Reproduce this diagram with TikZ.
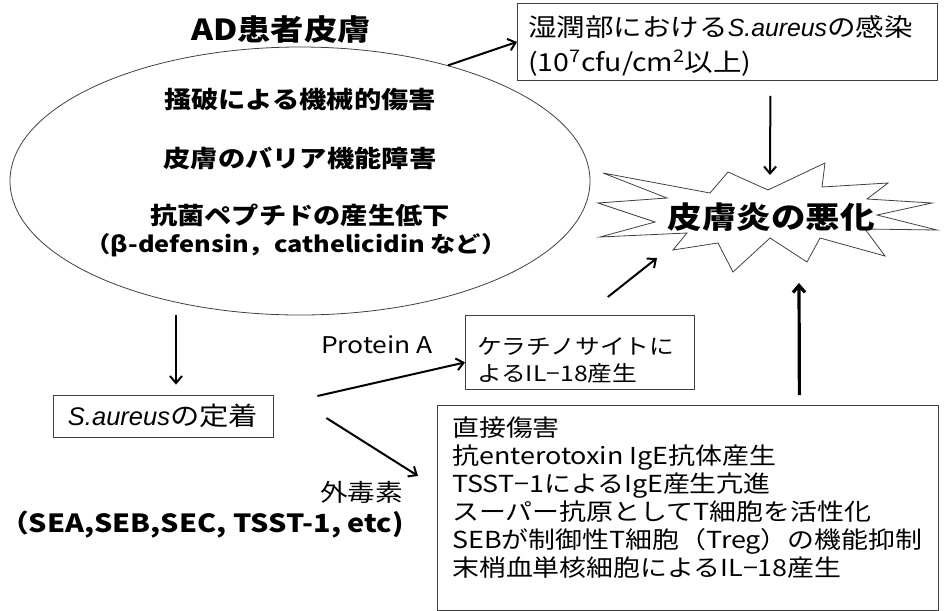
\documentclass[tikz,border=0pt]{standalone}
\usepackage{fontspec}
\setmainfont[FakeStretch=1.15]{Noto Sans CJK JP}
\newfontfamily\itfont{Liberation Sans}
\usetikzlibrary{arrows.meta,shapes.geometric}
\newcommand{\sau}{{\itfont\itshape S.aureus}}
\tikzset{
  boxn/.style={draw=black!75, line width=0.8pt, inner sep=0pt},
  arr/.style={line width=2pt, -{Straight Barb[length=7pt,width=12pt]}},
  thickarr/.style={line width=3.2pt, -{Straight Barb[length=7pt,width=12pt]}},
  lbl/.style={inner sep=0pt},
  txtl/.style={inner sep=0pt, anchor=north west, align=left},
}
\begin{document}
\begin{tikzpicture}[x=1pt,y=-1pt]
\useasboundingbox (0,0) rectangle (946,611);
% title and ellipse
\node[lbl, font=\fontsize{29}{29}\selectfont\bfseries] (title) at (281,30) {AD患者皮膚};
\node[draw=black!75, line width=0.8pt, ellipse, minimum width=580pt, minimum height=268pt, inner sep=0pt] (ell) at (300,181) {};
\node[lbl, font=\fontsize{23.7}{24}\selectfont\bfseries] (e1) at (300,100) {掻破による機械的傷害};
\node[lbl, font=\fontsize{23.7}{24}\selectfont\bfseries] (e2) at (300,158) {皮膚のバリア機能障害};
\node[lbl, font=\fontsize{23.7}{24}\selectfont\bfseries] (e3) at (300,215) {抗菌ペプチドの産生低下};
\node[lbl, font=\fontsize{22}{22}\selectfont\bfseries] (e4) at (296,245) {（β-defensin，cathelicidin など）};
% top right box
\node[boxn, anchor=north west, minimum width=420pt, minimum height=77pt] (inf) at (517,3) {};
\node[txtl, font=\fontsize{24.8}{35}\selectfont] (inftxt) at (528,15)
  {湿潤部における\sau の感染\\(10\textsuperscript{7}cfu/cm\textsuperscript{2}以上)};
% star
\draw[black!75, line width=0.8pt] (603,173) -- (710,193) -- (728,172) -- (768,190) -- (825,163)
  -- (822,187) -- (888,183) -- (867,199) -- (932,203) -- (877,215) -- (937,230) -- (865,229)
  -- (885,256) -- (820,238) -- (807,262) -- (770,238) -- (733,272) -- (718,243) -- (673,250)
  -- (687,233) -- (600,237) -- (655,222) -- (598,203) -- (667,198) -- cycle;
\node[lbl, font=\fontsize{30}{30}\selectfont\bfseries] (star) at (771,217) {皮膚炎の悪化};
\coordinate (startop) at (770,175);
\coordinate (starsw) at (657,258);
\coordinate (starbot) at (799,283);
% colonisation box
\node[boxn, minimum width=220pt, minimum height=42pt, align=center,
      font=\fontsize{25.5}{25.5}\selectfont] (col) at (163,416) {\sau の定着};
% keratinocyte box
\node[boxn, anchor=north west, minimum width=229pt, minimum height=74pt] (kera) at (465,315) {};
\node[txtl, font=\fontsize{21.5}{27}\selectfont] (keratxt) at (477,337) {ケラチノサイトに\\よるIL−18産生};
% direct damage box
\node[boxn, anchor=north west, minimum width=501pt, minimum height=205pt] (dir) at (437,405) {};
\node[txtl, font=\fontsize{23.4}{28}\selectfont] (dirtxt) at (452,417)
  {直接傷害\\抗enterotoxin IgE抗体産生\\TSST−1によるIgE産生亢進\\スーパー抗原としてT細胞を活性化\\SEBが制御性T細胞（Treg）の機能抑制\\末梢血単核細胞によるIL−18産生};
% labels
\node[lbl, font=\fontsize{23}{23}\selectfont] (prot) at (377,345) {Protein A};
\node[lbl, anchor=east, font=\fontsize{24}{24}\selectfont] (exo) at (403,492) {外毒素};
\node[lbl, anchor=east, font=\fontsize{25}{25}\selectfont\bfseries] (sea) at (404,525) {（SEA,SEB,SEC, TSST-1, etc)};
% arrows
\draw[arr] (ell.38) -- (inf.west);
\draw[arr] ([xshift=43pt,yshift=-15pt]inf.south) -- (startop);
\draw[arr] ([xshift=13pt]ell.south -| col.north) -- ([xshift=13pt,yshift=10pt]col.north);
\draw[arr] ([xshift=44pt,yshift=20pt]col.east) -- ([yshift=-10pt]kera.west);
\draw[arr] ([xshift=53pt,yshift=-2pt]col.east) -- ([xshift=-19pt,yshift=32pt]dir.west);
\draw[arr] ([xshift=-87pt,yshift=18pt]kera.north east) -- (starsw);
\draw[thickarr] ([xshift=111.5pt,yshift=10pt]dir.north) -- (starbot);
\end{tikzpicture}
\end{document}
